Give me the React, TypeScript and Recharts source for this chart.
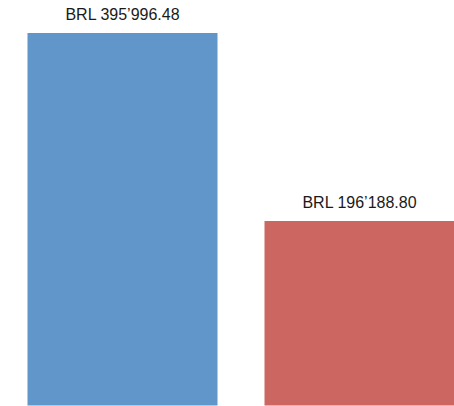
import React from "react";
import { BarChart, Bar, XAxis, YAxis, Cell, LabelList } from "recharts";

const categories = ["A", "B"];
const values = [395996.48, 196188.8];
const labels = ["BRL 395\u2019996.48", "BRL 196\u2019188.80"];
const colors = ["#6096C9", "#CC6660"];

const data = categories.map((c, i) => ({ name: c, value: values[i], label: labels[i] }));

export default function App() {
  return (
    <div style={{ position: "absolute", left: 0, top: 0, width: 454, height: 406, overflow: "hidden", background: "#fff" }}>
      <BarChart
        width={478}
        height={406}
        data={data}
        margin={{ top: 33, right: 0.5, bottom: 0.5, left: 0 }}
        barSize={190}
      >
        <XAxis
          dataKey="name"
          tick={false}
          tickLine={false}
          height={0}
          padding={{ left: 3.5, right: 0 }}
          axisLine={{ stroke: "#BFBFBF", strokeWidth: 1 }}
        />
        <YAxis hide domain={[0, values[0]]} />
        <Bar dataKey="value" isAnimationActive={false}>
          {data.map((d, i) => (
            <Cell key={d.name} fill={colors[i]} />
          ))}
          <LabelList
            dataKey="label"
            position="top"
            offset={13}
            style={{ fontFamily: "Liberation Sans", fontSize: 16, fill: "#1a1a1a" }}
          />
        </Bar>
      </BarChart>
    </div>
  );
}
